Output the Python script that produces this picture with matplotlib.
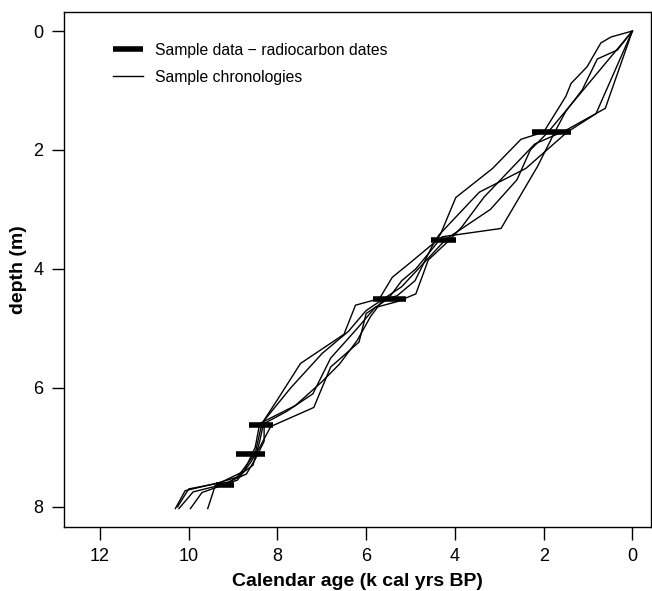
import matplotlib
matplotlib.use("Agg")
import matplotlib.pyplot as plt
import numpy as np

plt.rcParams["font.family"] = ["Liberation Sans", "DejaVu Sans"]

# radiocarbon dates: depth (m), age range (k cal yrs BP)
DATE_DEPTH = [1.70, 3.51, 4.51, 6.62, 7.12, 7.63]
DATE_OLD = [2.26, 4.54, 5.85, 8.65, 8.94, 9.39]
DATE_YOUNG = [1.38, 3.97, 5.10, 8.10, 8.28, 8.98]

# sample chronologies, (age, depth) pairs
CHRON_1 = [(0, 0), (0.48, 0.10), (0.71, 0.20), (1.02, 0.60), (1.38, 0.88), (1.50, 1.10),
           (2.00, 1.70), (2.51, 1.82), (3.15, 2.31), (3.98, 2.80), (4.32, 3.41),
           (4.45, 3.55), (5.03, 3.91), (5.41, 4.14), (5.70, 4.50), (6.24, 4.61),
           (6.50, 5.10), (7.48, 5.59), (8.00, 6.20), (8.35, 6.60), (8.50, 7.10),
           (8.90, 7.50), (9.35, 7.60), (10.08, 7.73), (10.30, 8.03)]
CHRON_2 = [(0, 0), (0.34, 0.32), (0.79, 0.47), (1.13, 0.99), (1.50, 1.35), (1.75, 1.70),
           (2.14, 2.28), (2.96, 3.32), (4.29, 3.46), (4.55, 3.70), (4.88, 4.00),
           (5.20, 4.20), (5.50, 4.50), (6.00, 4.75), (6.16, 5.23), (6.80, 5.65),
           (7.18, 6.33), (8.15, 6.65), (8.40, 7.00), (8.60, 7.25), (8.90, 7.55),
           (9.70, 7.76), (9.96, 8.03)]
CHRON_3 = [(0, 0), (0.82, 1.39), (1.47, 1.70), (2.40, 2.31), (3.45, 2.71), (4.36, 3.43),
           (4.50, 3.60), (4.90, 4.20), (5.30, 4.45), (5.70, 4.55), (6.00, 4.70),
           (6.40, 5.05), (6.99, 5.42), (7.70, 6.00), (8.30, 6.55), (8.40, 6.90),
           (8.55, 7.30), (9.10, 7.60), (9.90, 7.75), (10.22, 8.03)]
CHRON_4 = [(0, 0), (0.61, 1.30), (1.50, 1.67), (2.20, 1.90), (3.34, 2.79), (3.84, 3.29),
           (4.10, 3.50), (4.60, 3.85), (4.88, 4.42), (5.30, 4.55), (5.80, 4.65),
           (6.20, 5.00), (6.80, 5.50), (7.20, 6.10), (7.80, 6.40), (8.30, 6.60),
           (8.30, 6.90), (8.50, 7.20), (8.70, 7.45), (9.10, 7.58), (9.40, 7.64),
           (9.57, 8.03)]
CHRON_5 = [(0, 0), (1.90, 1.70), (2.30, 2.00), (2.60, 2.50), (3.20, 3.00), (3.80, 3.30),
           (4.20, 3.50), (4.70, 3.90), (5.20, 4.30), (5.60, 4.50), (5.90, 4.80),
           (6.20, 5.20), (6.60, 5.60), (7.00, 5.90), (7.60, 6.30), (8.40, 6.60),
           (8.50, 7.00), (8.75, 7.40), (9.30, 7.60), (10.00, 7.70), (10.25, 8.00)]
CHRONOLOGIES = [CHRON_1, CHRON_2, CHRON_3, CHRON_4, CHRON_5]

fig = plt.figure(figsize=(6.52, 5.91), dpi=100)
ax = fig.add_axes([64 / 652, 64 / 591, 587 / 652, 515 / 591])

for i, ch in enumerate(CHRONOLOGIES):
    a = np.array(ch)
    ax.plot(a[:, 0], a[:, 1], color="black", lw=1.0,
            label="Sample chronologies" if i == 0 else None)
ax.hlines(DATE_DEPTH, DATE_OLD, DATE_YOUNG, color="black", lw=4.0,
          label="Sample data \u2212 radiocarbon dates")

ax.set_xlim(12.81, -0.42)
ax.set_ylim(8.34, -0.32)
ax.set_xticks([12, 10, 8, 6, 4, 2, 0])
ax.set_yticks([0, 2, 4, 6, 8])
ax.tick_params(labelsize=13, length=9, width=1, pad=6)
for s in ax.spines.values():
    s.set_linewidth(1.0)
ax.set_xlabel("Calendar age (k cal yrs BP)", fontsize=14, fontweight="bold", labelpad=6)
ax.set_ylabel("depth (m)", fontsize=14, fontweight="bold", labelpad=4)

# legend: thick date bars first, then the thin chronologies
h, l = ax.get_legend_handles_labels()
ax.legend(h[::-1], l[::-1], loc="upper left", frameon=False, fontsize=11.3,
          bbox_to_anchor=(0.06, 0.968), handlelength=1.9, handletextpad=0.77,
          labelspacing=0.78)

fig.savefig("out.png", dpi=100)
